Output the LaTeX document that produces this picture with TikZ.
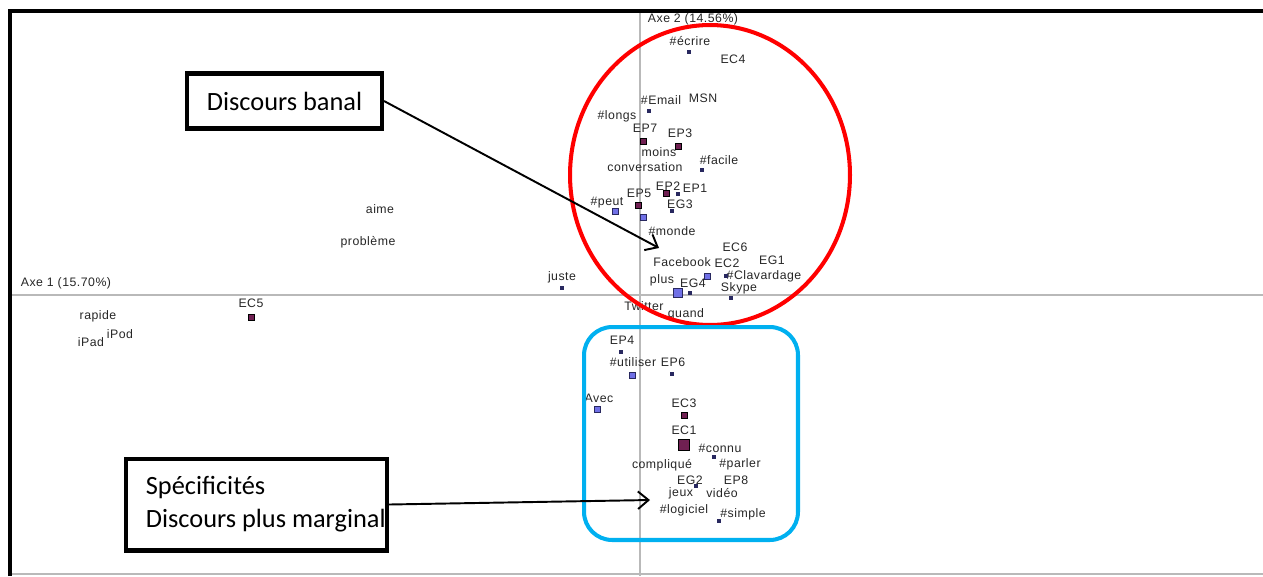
\documentclass[tikz,border=0pt]{standalone}
\usepackage{fontspec}
\setmainfont{Carlito}
\newfontfamily\plotfont[LetterSpace=4]{Liberation Sans}
\usetikzlibrary{arrows.meta,shapes.geometric}

\definecolor{ptpurple}{RGB}{112,32,82}
\definecolor{ptblue}{RGB}{112,112,230}
\definecolor{ptnavy}{RGB}{40,40,95}
\definecolor{boxblue}{RGB}{0,176,240}
\definecolor{axisgray}{RGB}{185,185,185}

\tikzset{
    word/.style={font=\plotfont\fontsize{7}{8}\selectfont, text=black!85, inner sep=0},
    dot node/.style={rectangle, fill=ptnavy, minimum size=1.8pt, inner sep=0},
    ep node/.style={rectangle, draw=black, fill=ptpurple, line width=0.3pt, minimum size=3.4pt, inner sep=0},
    eg node/.style={rectangle, draw=ptnavy, fill=ptblue, line width=0.3pt, minimum size=3.4pt, inner sep=0},
    note/.style={draw, line width=2.3pt, font=\fontsize{15}{18.7}\selectfont},
    pointer/.style={-{Straight Barb[length=6pt,width=10pt]}, line width=1.1pt}
    }

\begin{document}
\begin{tikzpicture}[x=0.02cm, y=-0.02cm]
    \useasboundingbox (0,0) rectangle (1263,576);
    % frame and axes
    \draw[axisgray, line width=0.7pt] (10,295) -- (1263,295);
    \draw[axisgray, line width=0.7pt] (640,11) -- (640,576);
    \draw[axisgray, line width=0.7pt] (10,574) -- (1263,574);
    \draw[line width=2.8pt] (10,576) |- (1263,11);

    \node(axe2)[word] at (693,19) {Axe 2 (14.56\%)};
    \node(axe1)[word] at (66,283) {Axe 1 (15.70\%)};

    % upper group
    \node(lecrire)[word] at (690,41) {\#écrire};
    \node(pecrire)[dot node] at (689,52) {};
    \node(lEC4)[word] at (733,59) {EC4};
    \node(lemail)[word] at (661,100) {\#Email};
    \node(pemail)[dot node] at (649,111) {};
    \node(lmsn)[word] at (703,98) {MSN};
    \node(llongs)[word] at (617,116) {\#longs};
    \node(lEP7)[word] at (645,128) {EP7};
    \node(pEP7)[ep node] at (643,141) {};
    \node(lEP3)[word] at (680,133) {EP3};
    \node(pEP3)[ep node] at (678,146) {};
    \node(lmoins)[word] at (659,152) {moins};
    \node(lconv)[word] at (645,167) {conversation};
    \node(lfacile)[word] at (719,160) {\#facile};
    \node(pfacile)[dot node] at (702,170) {};
    \node(lEP2)[word] at (668,186) {EP2};
    \node(pEP2)[ep node] at (666,193) {};
    \node(lEP1)[word] at (695,188) {EP1};
    \node(pEP1)[dot node] at (678,194) {};
    \node(lEP5)[word] at (639,193) {EP5};
    \node(pEP5)[ep node] at (638,205) {};
    \node(lpeut)[word] at (607,203) {\#peut};
    \node(ppeut)[eg node] at (615,211) {};
    \node(pmonde)[eg node] at (643,217) {};
    \node(lEG3)[word] at (680,204) {EG3};
    \node(pEG3)[dot node] at (672,211) {};
    \node(lmonde)[word] at (672,231) {\#monde};
    \node(lEC6)[word] at (735,247) {EC6};
    \node(lfacebook)[word] at (682,262) {Facebook};
    \node(lEC2)[word] at (727,263) {EC2};
    \node(lEG1)[word] at (772,260) {EG1};
    \node(lclav)[word] at (764,276) {\#Clavardage};
    \node(pclav)[dot node] at (726,276) {};
    \node(pEC2)[eg node] at (707,276) {};
    \node(lplus)[word] at (662,280) {plus};
    \node(lEG4)[word] at (693,283) {EG4};
    \node(pEG4)[dot node] at (690,293) {};
    \node(pplus)[eg node, minimum size=5pt] at (678,293) {};
    \node(lskype)[word] at (739,288) {Skype};
    \node(pskype)[dot node] at (731,298) {};
    \node(ltwitter)[word] at (644,306) {Twitter};
    \node(lquand)[word] at (686,314) {quand};

    % left side
    \node(ljuste)[word] at (562,277) {juste};
    \node(pjuste)[dot node] at (562,288) {};
    \node(laime)[word] at (380,209) {aime};
    \node(lprobleme)[word] at (368,242) {problème};
    \node(lEC5)[word] at (251,303) {EC5};
    \node(pEC5)[ep node] at (251,317) {};
    \node(lrapide)[word] at (98,316) {rapide};
    \node(lipad)[word] at (91,342) {iPad};
    \node(lipod)[word] at (120,334) {iPod};

    % lower group
    \node(lEP4)[word] at (622,340) {EP4};
    \node(pEP4)[dot node] at (621,352) {};
    \node(lutiliser)[word] at (633,362) {\#utiliser};
    \node(putiliser)[eg node] at (632,375) {};
    \node(lEP6)[word] at (673,362) {EP6};
    \node(pEP6)[dot node] at (672,374) {};
    \node(lavec)[word] at (599,398) {Avec};
    \node(pavec)[eg node] at (597,409) {};
    \node(lEC3)[word] at (684,403) {EC3};
    \node(pEC3)[ep node] at (684,415) {};
    \node(lEC1)[word] at (684,430) {EC1};
    \node(pEC1)[ep node, minimum size=6.2pt] at (684,445) {};
    \node(lconnu)[word] at (720,448) {\#connu};
    \node(pconnu)[dot node] at (714,457) {};
    \node(lparler)[word] at (740,464) {\#parler};
    \node(lcomplique)[word] at (662,465) {compliqué};
    \node(lEG2)[word] at (690,480) {EG2};
    \node(pEG2)[dot node] at (696,486) {};
    \node(lEP8)[word] at (736,480) {EP8};
    \node(ljeux)[word] at (681,493) {jeux};
    \node(lvideo)[word] at (722,493) {vidéo};
    \node(llogiciel)[word] at (684,510) {\#logiciel};
    \node(lsimple)[word] at (743,514) {\#simple};
    \node(psimple)[dot node] at (719,521) {};

    % zones
    \node(banalzone)[ellipse, draw=red, line width=2.3pt, minimum width=5.6cm, minimum height=6cm] at (710,175) {};
    \node(marginalzone)[rectangle, draw=boxblue, line width=2.3pt, rounded corners=16pt, minimum width=4.28cm, minimum height=4.26cm] at (691,433.5) {};

    % notes
    \node(banal)[note, minimum width=3.9cm, minimum height=1.1cm] at (284.5,101) {Discours banal};
    \node(marginal)[note, align=left, inner xsep=0pt, minimum width=5.22cm, minimum height=1.84cm] at (256.5,504.5)
        {\hspace*{0.37cm}Spécificités\\\hspace*{0.37cm}Discours plus marginal};

    \coordinate(banaltip) at (659,248);
    \coordinate(marginaltip) at (650,500);
    \draw[pointer] (banal.east) -- (banaltip);
    \draw[pointer] (marginal.east) -- (marginaltip);
\end{tikzpicture}
\end{document}
